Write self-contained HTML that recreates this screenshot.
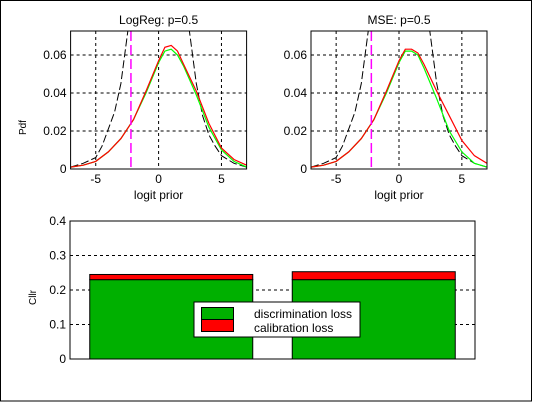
<!DOCTYPE html>
<html><head><meta charset="utf-8"><style>
html,body{margin:0;padding:0;background:#fff;}
svg{display:block;font-family:"Liberation Sans",sans-serif;}
</style></head><body>
<svg id="fig" width="535" height="402" xmlns="http://www.w3.org/2000/svg">
<rect x="0.5" y="0.5" width="531" height="400.5" fill="#fff" stroke="#000"/>
</svg>
<script>
const NS="http://www.w3.org/2000/svg";
const svg=document.getElementById('fig');
// ---- data ----
const xGrid=[-7,-6,-5,-4,-3,-2,-1,0,0.5,1,1.5,2,3,4,5,6,7];
const lrGreen=[0.001,0.002,0.004,0.009,0.016,0.026,0.040,0.056,0.062,0.063,0.060,0.054,0.039,0.022,0.010,0.004,0.001];
const lrRed=[0.001,0.002,0.004,0.009,0.016,0.026,0.041,0.057,0.064,0.065,0.062,0.055,0.041,0.024,0.011,0.005,0.002];
const mseGreen=[0.001,0.002,0.004,0.009,0.016,0.026,0.040,0.056,0.062,0.062,0.060,0.053,0.037,0.020,0.009,0.003,0.001];
const mseRed=[0.001,0.002,0.004,0.009,0.016,0.026,0.041,0.057,0.063,0.063,0.061,0.055,0.041,0.028,0.015,0.007,0.003];
const blackX=[-7,-6,-5,-4.5,-4,-3.5,-3,-2.5,-2.3,2.3,2.6,3,3.5,4,4.5,5,6,7];
const blackY=[0.001,0.003,0.006,0.012,0.021,0.030,0.045,0.070,0.080,0.080,0.065,0.045,0.028,0.018,0.012,0.007,0.003,0.001];
const threshold=-2.2;
const xTicks=[-5,0,5];
const yTicksTop=[0,0.02,0.04,0.06];
const barCats=['LogReg','MSE'];
const discLoss=[0.23,0.23];
const calLoss=[0.015,0.023];
const yTicksBot=[0,0.1,0.2,0.3,0.4];

function el(tag,attrs,parent){const e=document.createElementNS(NS,tag);for(const k in attrs)e.setAttribute(k,attrs[k]);(parent||svg).appendChild(e);return e;}
function txt(s,attrs,parent){const t=el('text',attrs,parent);t.textContent=s;return t;}

function densityPlot(L,title,green,red,name){
  const T=31,B=169,W=176,XMIN=-7,XMAX=7,YMAX=0.0726;
  const sx=v=>L+(v-XMIN)/(XMAX-XMIN)*W;
  const sy=v=>B-v/YMAX*(B-T);
  const g=el('g',{});
  
  
  const cp=el('clipPath',{id:'cp'+name},g);
  el('rect',{x:L,y:T,width:W,height:B-T},cp);
  el('rect',{x:L,y:T,width:W,height:B-T,fill:'#fff'},g);
  xTicks.forEach(v=>{const l=el('line',{x1:sx(v),x2:sx(v),y1:T,y2:B,stroke:'#000','stroke-dasharray':'3,3','stroke-width':1},g);
    
    const t=txt(String(v),{x:sx(v),y:B+14,'text-anchor':'middle','font-size':12},g);
    });
  yTicksTop.forEach(v=>{if(v>0){const l=el('line',{x1:L,x2:L+W,y1:sy(v),y2:sy(v),stroke:'#000','stroke-dasharray':'3,3'},g);
    }
    const t=txt(v===0?'0':String(v),{x:L-4,y:sy(v)+4,'text-anchor':'end','font-size':12},g);
    });
  const cg=el('g',{'clip-path':'url(#cp'+name+')'},g);
  const path=(xs,ys)=>xs.map((x,i)=>(i?'L':'M')+sx(x).toFixed(1)+','+sy(ys[i]).toFixed(1)).join('');
  const bl=el('path',{d:path(blackX.slice(0,9),blackY.slice(0,9))+' '+path(blackX.slice(9),blackY.slice(9)),fill:'none',stroke:'#000','stroke-dasharray':'8,3'},cg);
  
  const gl=el('path',{d:path(xGrid,green),fill:'none',stroke:'#00ff00','stroke-width':1.2},cg);
  
  const rl=el('path',{d:path(xGrid,red),fill:'none',stroke:'#ff0000','stroke-width':1.2},cg);
  
  const ml=el('line',{x1:sx(threshold),x2:sx(threshold),y1:T,y2:B,stroke:'#ff00ff','stroke-width':1.5,'stroke-dasharray':'10,4'},cg);
  
  el('rect',{x:L,y:T,width:W,height:B-T,fill:'none',stroke:'#000'},g);
  const tt=txt(title,{x:L+W/2,y:T-7,'text-anchor':'middle','font-size':12},g);
  
  const xl=txt('logit prior',{x:L+W/2,y:B+30,'text-anchor':'middle','font-size':12},g);
  
}
densityPlot(70.6,'LogReg: p=0.5',lrGreen,lrRed,'logreg-plot');
densityPlot(311,'MSE: p=0.5',mseGreen,mseRed,'mse-plot');
const yl=txt('Pdf',{x:0,y:0,'font-size':10,transform:'translate(26,135) rotate(-90)'});


// bottom bar chart
(function(){
  const L=70,R=475,T=221,B=359,YMAX=0.4;
  const sy=v=>B-v/YMAX*(B-T);
  const cx=i=>L+(i+0.5)/barCats.length*(R-L);
  const bw=163;
  const g=el('g',{});
  
  el('rect',{x:L,y:T,width:R-L,height:B-T,fill:'#fff'},g);
  yTicksBot.forEach(v=>{if(v>0&&v<YMAX){const l=el('line',{x1:L,x2:R,y1:sy(v),y2:sy(v),stroke:'#000','stroke-dasharray':'3,3'},g);
    }
    const t=txt(v===0?'0':String(v),{x:L-4,y:sy(v)+4,'text-anchor':'end','font-size':12},g);
    });
  barCats.forEach((c,i)=>{
    const x=cx(i)-bw/2;
    const b1=el('rect',{x:x,y:sy(discLoss[i]),width:bw,height:B-sy(discLoss[i]),fill:'#00b000',stroke:'#000'},g);
    
    const top=discLoss[i]+calLoss[i];
    const b2=el('rect',{x:x,y:sy(top),width:bw,height:sy(discLoss[i])-sy(top),fill:'#ff0000',stroke:'#000'},g);
    
  });
  el('rect',{x:L,y:T,width:R-L,height:B-T,fill:'none',stroke:'#000'},g);
  const lg=el('g',{},g);
  
  el('rect',{x:194,y:302,width:166,height:35,fill:'#fff',stroke:'#000'},lg);
  el('rect',{x:201.5,y:307.5,width:32,height:12,fill:'#00b000',stroke:'#000'},lg);
  el('rect',{x:201.5,y:319.5,width:32,height:12,fill:'#ff0000',stroke:'#000'},lg);
  const e1=txt('discrimination loss',{x:254,y:318,'font-size':12},lg);
  
  const e2=txt('calibration loss',{x:254,y:332,'font-size':12},lg);
  
  const yt=txt('Cllr',{x:0,y:0,'font-size':10,transform:'translate(36,305) rotate(-90)'});
  
})();
</script>
</body></html>
